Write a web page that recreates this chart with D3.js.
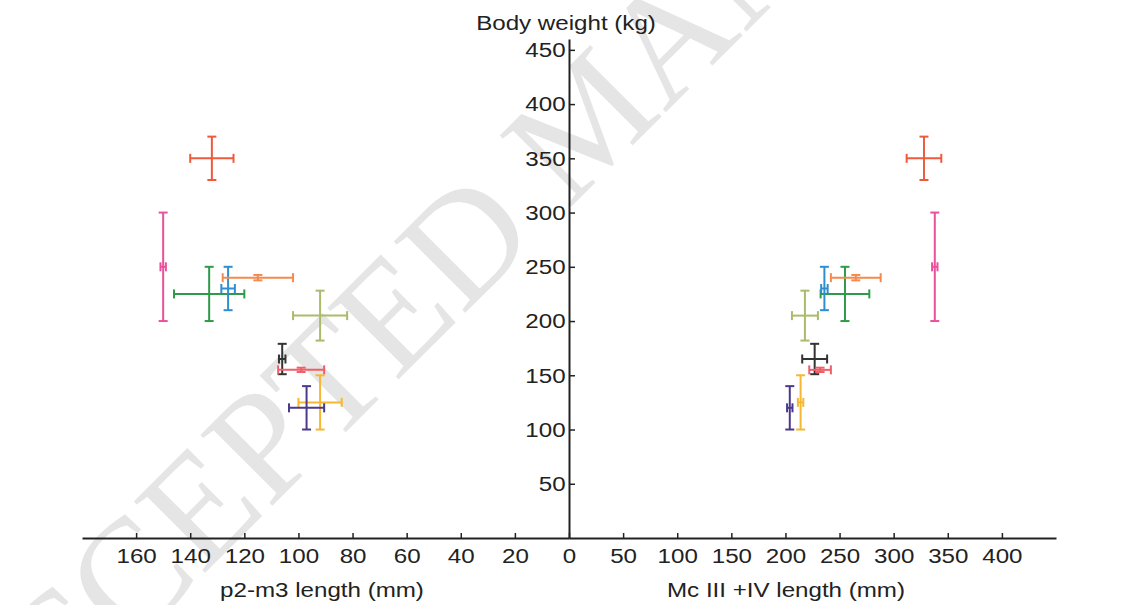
<!DOCTYPE html>
<html>
<head>
<meta charset="utf-8">
<script src="https://cdn.jsdelivr.net/npm/d3@7"></script>
<style>
  body { margin: 0; background: #fff; }
  text { font-family: "Liberation Sans", Arial, sans-serif; fill: #222; }
</style>
</head>
<body>
<div id="fig"></div>
<script>
const width = 1126
const height = 605

const colors = ['#ef5a3c', '#ea509c', '#2f9a4a', '#2f8ecf', '#f68a4c', '#abbb6c', '#333333', '#f05e68', '#f6b732', '#4b3a8c']
const weight = [350, 250, 225, 230, 240, 205, 165, 155, 125, 120]
const weightErr = [20, 50, 25, 20, 2.5, 23, 14, 2, 25, 20]
const toothLen = [132, 150, 133, 126, 115, 92, 106, 99, 92, 97]
const toothErr = [8, 1, 13, 2.5, 13, 10, 1.2, 8.5, 8, 6.5]
const mcLen = [328, 338, 255, 236, 265, 218, 227, 232, 214, 204]
const mcErr = [16, 2.5, 22.5, 3, 23, 12, 11.5, 10, 2.5, 2.5]

const toothTicks = [0, 20, 40, 60, 80, 100, 120, 140, 160]
const mcTicks = [50, 100, 150, 200, 250, 300, 350, 400]
const weightTicks = [50, 100, 150, 200, 250, 300, 350, 400, 450]

const originX = 569
const originY = 538
const cap = 4.5
const sx = 1.15

const fig = d3.select('#fig')
            .append('svg')
            .attr('width', width)
            .attr('height', height);

// watermark
fig.append('text')
   .attr('transform', 'translate(-22,800) rotate(-45)')
   .style('font-family', '"Liberation Serif", "Times New Roman", serif')
   .style('font-size', '154px')
   .style('fill', '#e5e5e5')
   .text('ACCEPTED MANUSCRIPT');

const xLeft = d3.scaleLinear().domain([0, 180]).range([originX, 82])
const xRight = d3.scaleLinear().domain([0, 450]).range([originX, 1056])
const y = d3.scaleLinear().domain([0, 460]).range([originY, 39])

const styleAxis = function(g) {
    g.select('.domain').attr('stroke', '#222').attr('stroke-width', 2)
    g.selectAll('.tick line').attr('stroke', '#222').attr('stroke-width', 1.5)
    g.selectAll('.tick text')
     .style('font-size', '21px')
     .attr('fill', '#222')
     .attr('transform', `scale(${sx},1)`)
}

fig.append('g')
   .attr('transform', `translate(0,${originY})`)
   .call(d3.axisBottom(xLeft).tickValues(toothTicks).tickSizeInner(-5).tickSizeOuter(0).tickPadding(10))
   .call(styleAxis)

fig.append('g')
   .attr('transform', `translate(0,${originY})`)
   .call(d3.axisBottom(xRight).tickValues(mcTicks).tickSizeInner(-5).tickSizeOuter(0).tickPadding(10))
   .call(styleAxis)

fig.append('g')
   .attr('transform', `translate(${originX},0)`)
   .call(d3.axisLeft(y).tickValues(weightTicks).tickSizeInner(-6).tickSizeOuter(0).tickPadding(3))
   .call(styleAxis)

const label = function(x, yy, txt) {
    fig.append('text')
       .attr('transform', `translate(${x},${yy}) scale(${sx},1)`)
       .attr('text-anchor', 'middle')
       .style('font-size', '21px')
       .text(txt)
}
label(566, 30, 'Body weight (kg)')
label(322, 597, 'p2-m3 length (mm)')
label(786, 597, 'Mc III +IV length (mm)')

const drawBars = function(xScale, xs, xerr) {
    const g = fig.append('g')
    weight.forEach(function(w, i) {
        const c = colors[i]
        const px = xScale(xs[i])
        const py = y(w)
        const x1 = xScale(xs[i] - xerr[i])
        const x2 = xScale(xs[i] + xerr[i])
        const y1 = y(w - weightErr[i])
        const y2 = y(w + weightErr[i])
        const segs = [
            [x1, py, x2, py],
            [x1, py - cap, x1, py + cap],
            [x2, py - cap, x2, py + cap],
            [px, y1, px, y2],
            [px - cap, y1, px + cap, y1],
            [px - cap, y2, px + cap, y2]
        ]
        g.selectAll(null)
         .data(segs)
         .enter()
         .append('line')
         .attr('x1', d => d[0])
         .attr('y1', d => d[1])
         .attr('x2', d => d[2])
         .attr('y2', d => d[3])
         .attr('stroke', c)
         .attr('stroke-width', 2)
    })
}

drawBars(xLeft, toothLen, toothErr)
drawBars(xRight, mcLen, mcErr)
</script>
</body>
</html>
